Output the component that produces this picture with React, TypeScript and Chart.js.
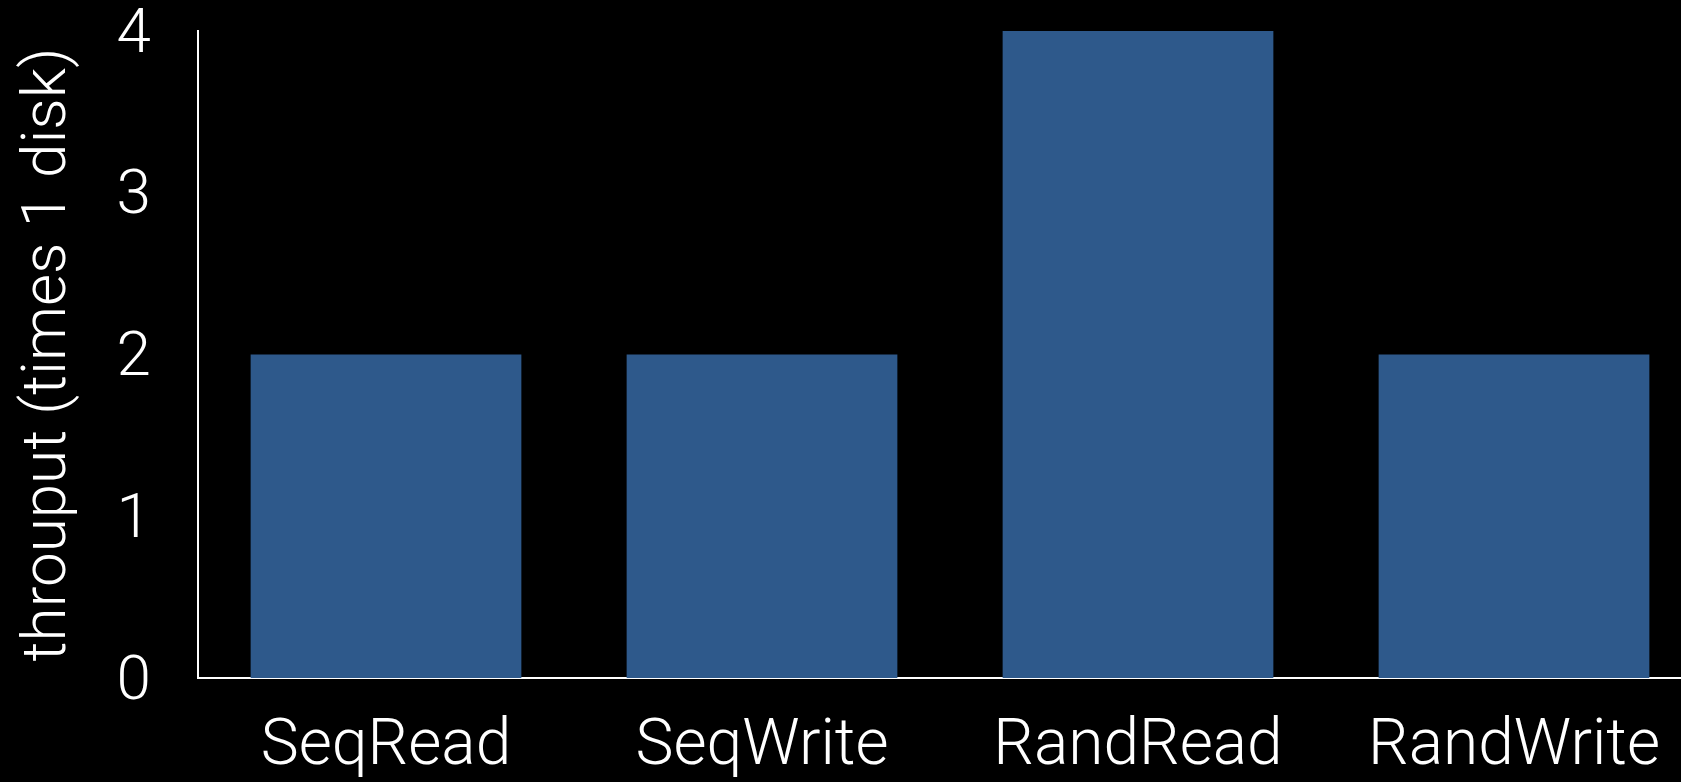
import React, { useEffect, useRef } from "react";
import { Chart, registerables } from "chart.js";

Chart.register(...registerables);

const categories = ["SeqRead", "SeqWrite", "RandRead", "RandWrite"];
const throughput = [2, 2, 4, 2];
const yTicks = [0, 1, 2, 3, 4];
const yTitle = "throuput (times 1 disk)";

const FONT = "'Helvetica Neue', Roboto, 'Open Sans', sans-serif";

export default function App() {
  const ref = useRef<HTMLCanvasElement | null>(null);
  useEffect(() => {
    if (!ref.current) return;
    const chart = new Chart(ref.current, {
      type: "bar",
      data: {
        labels: categories,
        datasets: [
          {
            data: throughput,
            backgroundColor: "#2E598B",
            borderWidth: 0,
            categoryPercentage: 1,
            barPercentage: 0.72,
          },
        ],
      },
      options: {
        responsive: false,
        animation: false,
        layout: { padding: { top: 31, left: 0, right: 0, bottom: 0 } },
        plugins: { legend: { display: false }, tooltip: { enabled: false } },
        scales: {
          x: {
            grid: { display: false, drawTicks: false },
            border: { display: true, color: "#ffffff", width: 2 },
            ticks: {
              color: "#ffffff",
              font: { family: FONT, size: 64, weight: "300", lineHeight: 1.2 },
              padding: 32,
              maxRotation: 0,
              autoSkip: false,
            },
            afterFit: (s: any) => {
              s.height = 104;
              s.paddingLeft = 0;
              s.paddingRight = 0;
            },
          },
          y: {
            min: yTicks[0],
            max: yTicks[yTicks.length - 1],
            grid: { display: false, drawTicks: false },
            border: { display: true, color: "#ffffff", width: 2 },
            ticks: {
              stepSize: 1,
              color: "#ffffff",
              font: { family: FONT, size: 62, weight: "300", lineHeight: 1 },
              padding: 47,
              labelOffset: 5,
            },
            title: {
              display: true,
              text: yTitle,
              color: "#ffffff",
              font: { family: FONT, size: 62, weight: "300", lineHeight: 1.2 },
              padding: { top: 12, bottom: 0 },
            },
            afterFit: (s: any) => {
              s.width = 198;
              s.paddingTop = 0;
              s.paddingBottom = 0;
            },
          },
        },
      },
    });
    return () => chart.destroy();
  }, []);
  return (
    <div
      style={{
        position: "fixed",
        left: 0,
        top: 0,
        width: 1681,
        height: 782,
        overflow: "hidden",
        background: "#000",
      }}
    >
      <canvas ref={ref} width={1702} height={782} style={{ display: "block" }} />
    </div>
  );
}
